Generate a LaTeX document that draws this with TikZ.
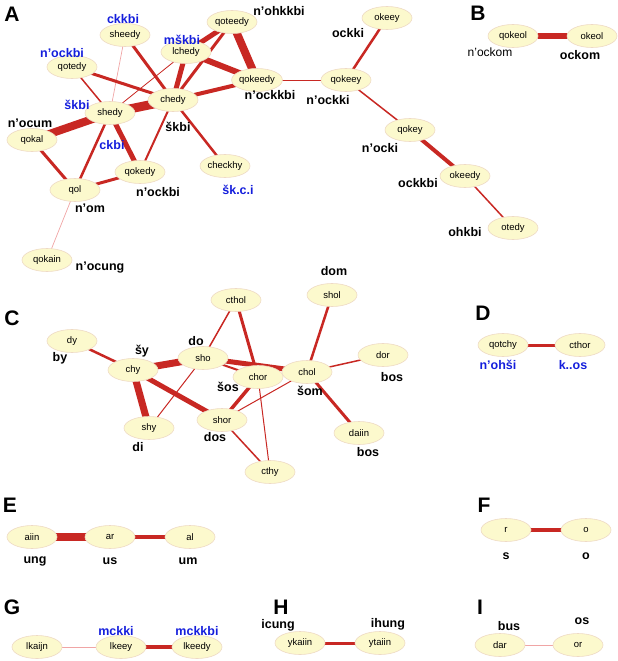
\documentclass[tikz,border=0pt]{standalone}
\usepackage{fontspec}
\setmainfont{Liberation Sans}
\usetikzlibrary{shapes.geometric,backgrounds}
\definecolor{ered}{RGB}{200,40,35}
\definecolor{epink}{RGB}{240,165,165}
\definecolor{nfill}{RGB}{252,249,205}
\definecolor{nbord}{RGB}{238,218,196}
\definecolor{lblue}{RGB}{20,30,220}
\begin{document}
\begin{tikzpicture}[x=1pt,y=-1pt,
  n/.style={ellipse,fill=nfill,draw=nbord,line width=0.6pt,minimum width=50pt,minimum height=23pt,inner sep=0pt,font=\fontsize{9.5}{10}\selectfont},
  lb/.style={font=\bfseries\fontsize{12.5}{13}\selectfont,inner sep=0pt},
  lbb/.style={lb,text=lblue},
  pl/.style={font=\bfseries\fontsize{21}{22}\selectfont,inner sep=0pt},
  e/.style={draw=ered,line width=#1pt},
  p/.style={draw=epink,line width=0.7pt}]
\useasboundingbox (0,0) rectangle (618,661);
% panel letters
\node[pl] (pA) at (12,14) {A};
\node[pl] (pB) at (478,13) {B};
\node[pl] (pC) at (12,318) {C};
\node[pl] (pD) at (483,313) {D};
\node[pl] (pE) at (10,505) {E};
\node[pl] (pF) at (484,505) {F};
\node[pl] (pG) at (12,607) {G};
\node[pl] (pH) at (281,607) {H};
\node[pl] (pI) at (480,607) {I};
% panel A nodes
\node[n] (sheedy) at (125,35) {sheedy};
\node[n] (lchedy) at (186,52) {lchedy};
\node[n] (qoteedy) at (232,22) {qoteedy};
\node[n] (qotedy) at (72,67) {qotedy};
\node[n] (qokeedy) at (257,80) {qokeedy};
\node[n] (chedy) at (173,100) {chedy};
\node[n] (shedy) at (110,113) {shedy};
\node[n] (qokal) at (32,140) {qokal};
\node[n] (qokedy) at (140,172) {qokedy};
\node[n] (checkhy) at (225,166) {checkhy};
\node[n] (qol) at (75,190) {qol};
\node[n] (qokain) at (47,260) {qokain};
\node[n] (qokeey) at (346,80) {qokeey};
\node[n] (okeey) at (387,18) {okeey};
\node[n] (qokey) at (410,130) {qokey};
\node[n] (okeedy) at (465,176) {okeedy};
\node[n] (otedy) at (513,228) {otedy};
% A labels
\node[lbb] (l1) at (123,19) {ckkbi};
\node[lbb] (l2) at (182,40) {mškbi};
\node[lb] (l3) at (279,11) {n'ohkkbi};
\node[lbb] (l4) at (62,53) {n'ockbi};
\node[lb] (l5) at (270,95) {n'ockkbi};
\node[lb] (l6) at (348,33) {ockki};
\node[lb] (l7) at (328,100) {n'ockki};
\node[lbb] (l8) at (77,105) {škbi};
\node[lb] (l9) at (30,123) {n'ocum};
\node[lb] (l10) at (178,127) {škbi};
\node[lbb] (l11) at (112,145) {ckbi};
\node[lb] (l12) at (158,192) {n'ockbi};
\node[lbb] (l13) at (238,190) {šk.c.i};
\node[lb] (l14) at (90,208) {n'om};
\node[lb] (l15) at (100,268) {n'ocung};
\node[lb] (l16) at (380,148) {n'ocki};
\node[lb] (l17) at (418,183) {ockkbi};
\node[lb] (l18) at (465,232) {ohkbi};
% B
\node[n] (qokeol) at (513,36) {qokeol};
\node[n] (okeol) at (592,36) {okeol};
\node[inner sep=0pt,font=\fontsize{12}{13}\selectfont] (l19) at (490,52) {n'ockom};
\node[lb] (l20) at (580,55) {ockom};
% C
\node[n] (cthol) at (236,300) {cthol};
\node[n] (shol) at (332,295) {shol};
\node[n] (dy) at (72,341) {dy};
\node[n] (dor) at (383,355) {dor};
\node[n] (chy) at (133,370) {chy};
\node[n] (sho) at (203,358) {sho};
\node[n] (chor) at (258,377) {chor};
\node[n] (chol) at (307,372) {chol};
\node[n] (shy) at (149,428) {shy};
\node[n] (shor) at (222,420) {shor};
\node[n] (daiin) at (359,433) {daiin};
\node[n] (cthy) at (270,472) {cthy};
\node[lb] (c1) at (196,341) {do};
\node[lb] (c2) at (142,351) {šy};
\node[lb] (c3) at (60,358) {by};
\node[lb] (c4) at (228,387) {šos};
\node[lb] (c5) at (310,391) {šom};
\node[lb] (c6) at (392,377) {bos};
\node[lb] (c7) at (215,437) {dos};
\node[lb] (c8) at (138,447) {di};
\node[lb] (c9) at (368,452) {bos};
\node[lb] (c10) at (334,271) {dom};
% D
\node[n] (qotchy) at (503,345) {qotchy};
\node[n] (cthor) at (580,345) {cthor};
\node[lbb] (d1) at (498,365) {n'ohši};
\node[lbb] (d2) at (573,365) {k..os};
% E
\node[n] (aiin) at (32,537) {aiin};
\node[n] (ar) at (110,537) {ar};
\node[n] (al) at (190,537) {al};
\node[lb] (e1) at (35,561) {ung};
\node[lb] (e2) at (110,561) {us};
\node[lb] (e3) at (188,561) {um};
% F
\node[n] (r) at (506,530) {r};
\node[n] (o) at (586,530) {o};
\node[lb] (f1) at (506,556) {s};
\node[lb] (f2) at (586,556) {o};
% G
\node[n] (lkaijn) at (37,647) {lkaijn};
\node[n] (lkeey) at (121,647) {lkeey};
\node[n] (lkeedy) at (197,647) {lkeedy};
\node[lbb] (g1) at (116,631) {mckki};
\node[lbb] (g2) at (197,631) {mckkbi};
% H
\node[n] (ykaiin) at (300,643) {ykaiin};
\node[n] (ytaiin) at (380,643) {ytaiin};
\node[lb] (h1) at (278,625) {icung};
\node[lb] (h2) at (388,624) {ihung};
% I
\node[n] (dar) at (500,645) {dar};
\node[n] (or) at (578,645) {or};
\node[lb] (i1) at (509,626) {bus};
\node[lb] (i2) at (582,621) {os};
\begin{pgfonlayer}{background}
% A edges
\draw[p] (sheedy.center) -- (shedy.center);
\draw[e=3] (sheedy.center) -- (chedy.center);
\draw[e=3] (qotedy.center) -- (chedy.center);
\draw[e=1.5] (qotedy.center) -- (shedy.center);
\draw[e=0.8] (lchedy.center) -- (shedy.center);
\draw[e=5] (lchedy.center) -- (chedy.center);
\draw[e=5] (lchedy.center) -- (qoteedy.center);
\draw[e=6] (lchedy.center) -- (qokeedy.center);
\draw[e=8] (qoteedy.center) -- (qokeedy.center);
\draw[e=3] (qoteedy.center) -- (chedy.center);
\draw[e=4] (chedy.center) -- (qokeedy.center);
\draw[e=9] (shedy.center) -- (chedy.center);
\draw[e=8] (shedy.center) -- (qokal.center);
\draw[e=5] (shedy.center) -- (qokedy.center);
\draw[e=2.5] (shedy.center) -- (qol.center);
\draw[e=2] (chedy.center) -- (qokedy.center);
\draw[e=2.5] (chedy.center) -- (checkhy.center);
\draw[e=3] (qokal.center) -- (qol.center);
\draw[e=3] (qol.center) -- (qokedy.center);
\draw[p] (qol.center) -- (qokain.center);
\draw[e=1] (qokeedy.center) -- (qokeey.center);
\draw[e=2.5] (qokeey.center) -- (okeey.center);
\draw[e=1.5] (qokeey.center) -- (qokey.center);
\draw[e=4] (qokey.center) -- (okeedy.center);
\draw[e=1.5] (okeedy.center) -- (otedy.center);
% B
\draw[e=6] (qokeol.center) -- (okeol.center);
% C
\draw[e=2.5] (dy.center) -- (chy.center);
\draw[e=7] (chy.center) -- (sho.center);
\draw[e=7] (chy.center) -- (shy.center);
\draw[e=5] (chy.center) -- (shor.center);
\draw[e=1] (sho.center) -- (shy.center);
\draw[e=1.5] (sho.center) -- (cthol.center);
\draw[e=5] (sho.center) -- (chol.center);
\draw[e=2] (sho.center) -- (chor.center);
\draw[e=3] (cthol.center) -- (chor.center);
\draw[e=3.5] (chor.center) -- (shor.center);
\draw[e=1] (chor.center) -- (cthy.center);
\draw[e=2.5] (chol.center) -- (shol.center);
\draw[e=1.5] (chol.center) -- (dor.center);
\draw[e=3] (chol.center) -- (daiin.center);
\draw[e=1] (chol.center) -- (shor.center);
\draw[e=1.5] (shor.center) -- (cthy.center);
% D
\draw[e=3] (qotchy.center) -- (cthor.center);
% E
\draw[e=8] (aiin.center) -- (ar.center);
\draw[e=4] (ar.center) -- (al.center);
% F
\draw[e=4] (r.center) -- (o.center);
% G
\draw[p] (lkaijn.center) -- (lkeey.center);
\draw[e=4] (lkeey.center) -- (lkeedy.center);
% H
\draw[e=3] (ykaiin.center) -- (ytaiin.center);
% I
\draw[p] (dar.center) -- (or.center);
\end{pgfonlayer}
\end{tikzpicture}
\end{document}
